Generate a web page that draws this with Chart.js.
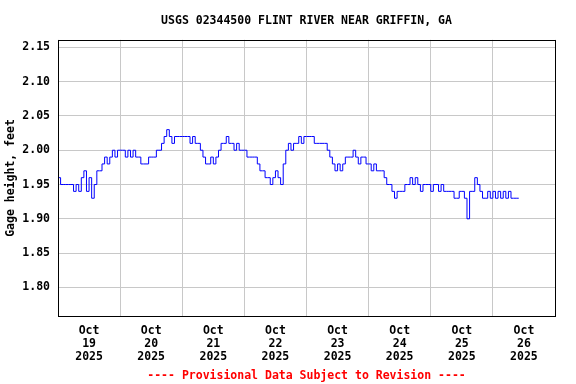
<!DOCTYPE html>
<html>
<head>
<meta charset="utf-8">
<title>USGS 02344500 FLINT RIVER NEAR GRIFFIN, GA</title>
<script src="https://cdn.jsdelivr.net/npm/chart.js@4/dist/chart.umd.min.js"></script>
<style>
  html, body { margin: 0; padding: 0; background: #fff; }
  canvas { display: block; }
</style>
</head>
<body>
<canvas id="gageChart" width="576" height="384"></canvas>
<script>
/************ DATA ************/
// gage height, one reading per hour from Oct 19 2025 00:00
const gageHeight = [
  1.96, 1.95, 1.95, 1.95, 1.95, 1.95, 1.94, 1.95, 1.94, 1.96,
  1.97, 1.94, 1.96, 1.93, 1.95, 1.97, 1.97, 1.98, 1.99, 1.98,
  1.99, 2.00, 1.99, 2.00, 2.00, 2.00, 1.99, 2.00, 1.99, 2.00,
  1.99, 1.99, 1.98, 1.98, 1.98, 1.99, 1.99, 1.99, 2.00, 2.00,
  2.01, 2.02, 2.03, 2.02, 2.01, 2.02, 2.02, 2.02, 2.02, 2.02,
  2.02, 2.01, 2.02, 2.01, 2.01, 2.00, 1.99, 1.98, 1.98, 1.99,
  1.98, 1.99, 2.00, 2.01, 2.01, 2.02, 2.01, 2.01, 2.00, 2.01,
  2.00, 2.00, 2.00, 1.99, 1.99, 1.99, 1.99, 1.98, 1.97, 1.97,
  1.96, 1.96, 1.95, 1.96, 1.97, 1.96, 1.95, 1.98, 2.00, 2.01,
  2.00, 2.01, 2.01, 2.02, 2.01, 2.02, 2.02, 2.02, 2.02, 2.01,
  2.01, 2.01, 2.01, 2.01, 2.00, 1.99, 1.98, 1.97, 1.98, 1.97,
  1.98, 1.99, 1.99, 1.99, 2.00, 1.99, 1.98, 1.99, 1.99, 1.98,
  1.98, 1.97, 1.98, 1.97, 1.97, 1.97, 1.96, 1.95, 1.95, 1.94,
  1.93, 1.94, 1.94, 1.94, 1.95, 1.95, 1.96, 1.95, 1.96, 1.95,
  1.94, 1.95, 1.95, 1.95, 1.94, 1.95, 1.95, 1.94, 1.95, 1.94,
  1.94, 1.94, 1.94, 1.93, 1.93, 1.94, 1.94, 1.93, 1.90, 1.94,
  1.94, 1.96, 1.95, 1.94, 1.93, 1.93, 1.94, 1.93, 1.94, 1.93,
  1.94, 1.93, 1.94, 1.93, 1.94, 1.93, 1.93, 1.93, 1.93,
];

const dayLabels = ["19", "20", "21", "22", "23", "24", "25", "26"];
const xTickHours = [0, 12, 24, 36, 48, 60, 72, 84, 96, 108, 120, 132, 144, 156, 168, 180, 192];
const yTicks = [1.80, 1.85, 1.90, 1.95, 2.00, 2.05, 2.10, 2.15];

/************ CHART ************/
const FONT = { family: '"DejaVu Sans Mono", monospace', size: 11.5, weight: "bold", lineHeight: 1.2 };
const XFONT = { family: '"DejaVu Sans Mono", monospace', size: 11.5, weight: "bold", lineHeight: "13px" };

// black frame round the plot area
const framePlugin = {
  id: "frame",
  afterDraw(chart) {
    const { ctx, chartArea: a } = chart;
    ctx.save();
    ctx.strokeStyle = "#000";
    ctx.lineWidth = 1;
    ctx.strokeRect(Math.round(a.left) + 0.5, Math.round(a.top) + 0.5,
      Math.round(a.right - a.left), Math.round(a.bottom - a.top));
    ctx.restore();
  },
};

const ctx = document.getElementById("gageChart").getContext("2d");
const gageChart = new Chart(ctx, {
  type: "line",
  data: {
    datasets: [
      {
        label: "Gage height",
        data: gageHeight.map((v, i) => ({ x: i, y: v })),
        borderColor: "#0000ff",
        borderWidth: 1,
        pointRadius: 0,
        stepped: true,
        fill: false,
      },
    ],
  },
  options: {
    responsive: false,
    animation: false,
    layout: { padding: { left: 0, right: 21, top: 0, bottom: 0 } },
    plugins: {
      legend: { display: false },
      tooltip: { enabled: false },
      title: {
        display: true,
        fullSize: false,
        text: "USGS 02344500 FLINT RIVER NEAR GRIFFIN, GA",
        color: "#000",
        font: FONT,
        padding: { top: 14, bottom: 12 },
      },
      subtitle: {
        display: true,
        fullSize: false,
        position: "bottom",
        text: "---- Provisional Data Subject to Revision ----",
        color: "#ff0000",
        font: FONT,
        padding: { top: 6, bottom: 1 },
      },
    },
    scales: {
      x: {
        type: "linear",
        min: 0,
        max: 192,
        afterBuildTicks: (scale) => {
          scale.ticks = xTickHours.map((h) => ({ value: h }));
        },
        afterFit: (scale) => {
          scale.height = 47;
        },
        ticks: {
          autoSkip: false,
          maxRotation: 0,
          padding: 8,
          color: "#000",
          font: XFONT,
          callback: (value) =>
            value % 24 === 12 ? ["Oct", dayLabels[(value - 12) / 24], "2025"] : "",
        },
        grid: {
          drawTicks: false,
          color: (c) => (c.tick && c.tick.value % 24 === 0 ? "#c8c8c8" : "rgba(0,0,0,0)"),
        },
        border: { display: false },
      },
      y: {
        min: 1.758,
        max: 2.161,
        afterBuildTicks: (scale) => {
          scale.ticks = yTicks.map((v) => ({ value: v }));
        },
        afterFit: (scale) => {
          scale.width = 58;
        },
        ticks: {
          padding: 8,
          color: "#000",
          font: FONT,
          callback: (value) => value.toFixed(2),
        },
        grid: { drawTicks: false, color: "#c8c8c8" },
        border: { display: false },
        title: {
          display: true,
          text: "Gage height, feet",
          color: "#000",
          font: FONT,
          padding: { top: 4, bottom: 4 },
        },
      },
    },
  },
  plugins: [framePlugin],
});
</script>
</body>
</html>
